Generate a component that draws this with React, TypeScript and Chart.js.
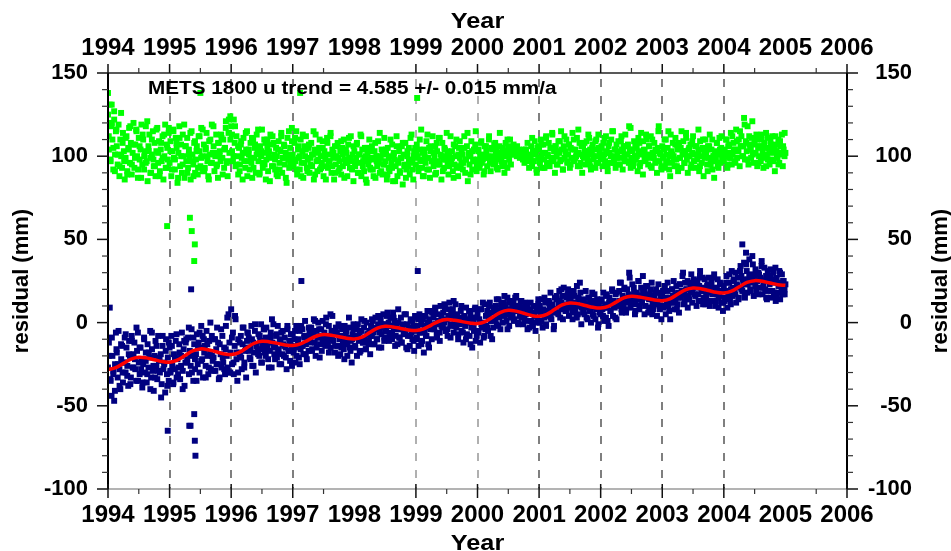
import React, { useEffect, useRef } from 'react';
import { Chart, registerables } from 'chart.js';

Chart.register(...registerables);

const FONT = "'Liberation Sans', Arial, Helvetica, sans-serif";

// ---- data ----
const years = [1994, 1995, 1996, 1997, 1998, 1999, 2000, 2001, 2002, 2003, 2004];
const endYear = 2005;

// blue: "u" residuals (mm), ~70 samples per year
const blueSeries: number[][] = [
  [-27,-12,9,-35,-44,-20,-31,-47,-25,-6,-18,-33,-5,-28,-40,-22,-14,-36,-24,-9,-30,-15,-26,-38,-11,-20,-33,-8,-27,-19,-12,-28,-35,-17,-6,-24,-31,-15,-22,-39,-25,-9,-30,-18,-36,-13,-27,-21,-5,-33,-16,-29,-41,-20,-11,-26,-34,-8,-23,-30,-19,-37,-14,-28,-24,-42,-10,-31,-21,-35],
  [-15,-30,-8,-26,-37,-19,-28,-11,-33,-22,-27,-13,-34,-20,-6,-29,-16,-38,-24,-10,-22,-9,-31,-17,-26,-4,-20,-35,-13,-28,-19,-7,-25,-12,-30,-15,-2,-22,-33,-10,-14,-26,-5,-20,-31,-11,-18,-28,-8,-23,-21,-10,-29,-16,-3,-25,-34,-13,-19,-27,-8,-24,-15,-31,-2,-20,-27,5,-12,-30],
  [8,-25,-6,-31,-14,2,-22,-35,-10,-18,-20,-8,-28,-13,-3,-24,-17,-33,-11,-6,-9,-21,-15,-2,-26,-12,-18,-5,-30,-14,-16,-7,-20,-11,-1,-24,-13,-4,-18,-9,-3,-15,-22,-10,-17,-6,-27,-12,-1,-19,-14,-8,-21,-2,-16,-25,-11,-6,-19,-13,-20,-9,-15,-28,-4,-17,-11,-23,-7,-14],
  [-7,-18,-10,-24,-2,-15,-12,-21,-5,-16,-14,-4,-19,-9,1,-13,-22,-8,-17,-6,-11,-3,-16,-7,2,-12,-20,-5,-9,0,-4,-13,-8,-17,1,-10,-6,-14,3,-9,-12,-2,-9,-15,-5,4,-11,-7,-18,-3,-6,-14,-1,-10,-19,-8,-4,-12,-16,-2,-13,-5,-20,-9,-3,-15,-11,-24,-7,-1],
  [-4,-15,-8,-20,-1,-11,-6,-17,2,-10,-12,-3,-9,-16,0,-7,-13,-5,-19,-2,-8,1,-6,-13,3,-3,-10,-1,-15,-5,2,-7,-3,5,-11,-1,-5,4,-9,0,-6,3,-2,-10,6,-4,1,-8,-1,-13,0,-9,-4,3,-12,-2,-7,5,-5,-15,-1,-8,-3,-14,2,-6,-10,-2,-17,4],
  [3,-9,-2,-14,5,-6,-1,-11,2,-18,-5,4,-8,0,-13,2,-3,7,-10,-1,3,-4,8,-1,-9,5,0,-6,10,-2,-3,6,0,9,-5,2,-8,4,12,-1,5,-2,8,-6,1,11,-3,4,-10,3,-1,7,-5,2,-12,4,-2,9,-7,0,2,-8,5,-3,-15,1,-5,8,-11,3],
  [5,-6,2,-12,8,-3,0,-9,11,-4,-2,7,-5,4,12,-8,1,6,-3,9,2,10,-1,7,14,3,-4,9,5,12,11,4,9,1,15,6,-2,8,13,3,5,12,2,9,16,7,0,10,4,13,3,9,-1,7,12,5,1,10,6,-3,8,1,6,-2,10,4,-5,7,2,11],
  [9,0,6,14,-3,8,3,12,-1,7,4,13,9,18,2,11,6,-2,15,8,14,6,11,19,3,12,8,16,21,9,7,15,10,20,4,13,17,9,2,12,16,8,12,22,5,14,10,18,-1,11,6,14,9,19,3,11,15,7,12,0,13,5,10,17,2,8,14,-3,11,6],
  [5,14,8,18,1,11,3,16,9,-2,15,7,12,20,4,13,9,17,2,11,10,19,13,24,6,16,11,21,14,8,20,12,17,27,9,15,23,13,18,5,11,18,14,25,8,16,21,12,28,17,19,10,15,22,6,14,17,9,24,12,8,16,11,20,4,13,18,10,15,2],
  [17,9,14,22,5,12,19,10,15,2,12,20,16,25,8,14,22,11,18,6,23,15,19,28,11,17,24,14,20,9,16,24,19,29,12,21,26,17,23,10,25,17,22,31,13,19,27,15,21,11,14,22,18,27,10,20,24,13,19,29,21,13,17,26,9,16,23,12,19,7],
  [22,13,19,28,9,17,24,14,20,31,16,25,19,30,12,22,27,15,21,34,28,19,25,36,15,23,31,18,26,38,20,29,24,35,16,27,32,19,25,30,29,21,26,37,17,24,33,20,28,14,19,28,23,32,15,25,30,18,26,13,27,18,24,31,14,22,29,17,25,20],
];
// blue: interleaved extra samples, ~40 per year
const blueSeriesB: number[][] = [
  [-20,-34,-9,-29,-41,-16,-25,-38,-13,-30,-24,-7,-32,-19,-37,-11,-27,-22,-3,-35,-15,-28,-36,-10,-23,-31,-18,-40,-6,-26,-33,-14,-29,-21,-45,-8,-25,-17,-38,-12],
  [-29,-14,-36,-21,-7,-31,-18,-26,-40,-11,-12,-24,-3,-19,-30,-9,-22,-35,-15,-6,-23,-8,-18,-33,-13,-27,0,-20,-29,-10,-25,-12,-33,-4,-21,-28,-16,3,-30,-18],
  [-9,-24,4,-18,-30,-12,-21,-3,-27,-15,-6,-17,-22,-10,-26,-1,-14,-19,-8,-24,-16,-4,-20,-12,-27,-9,2,-15,-22,-7,-18,-10,-25,-5,-14,-21,-2,-17,-11,-26],
  [-16,-5,-20,-10,-25,-2,-14,-8,-19,-11,-3,-12,-17,-6,1,-15,-9,-21,-4,-11,-13,-1,-8,-18,5,-10,-5,-14,-7,-20,-2,-15,-9,-22,-6,-12,3,-17,-10,-4],
  [-14,-3,-9,-18,-5,-12,1,-16,-7,-11,-8,2,-13,-4,-10,4,-6,-15,-1,-9,-5,6,-11,-2,-7,3,-14,-4,8,-9,-12,-1,-6,5,-16,-3,-8,1,-11,-5],
  [-10,2,-6,-13,4,-2,-8,7,-15,-4,6,-3,9,-7,1,-11,4,-1,11,-5,-4,8,-9,3,13,-2,5,-7,0,10,-6,4,-10,1,7,-13,3,-2,9,-8],
  [-5,8,-1,12,-8,4,-3,10,1,-10,9,2,14,-2,7,11,0,16,5,-4,12,4,9,1,15,7,-1,10,13,6,2,9,-4,7,12,-2,5,10,0,14],
  [10,1,7,15,-2,6,12,3,9,-4,8,16,5,13,20,2,11,7,17,12,14,6,19,10,3,15,24,9,12,5,11,2,15,7,18,4,9,13,-1,8],
  [13,4,9,17,1,12,7,19,10,3,18,11,24,8,15,20,6,13,30,16,12,21,7,17,25,10,14,19,5,22,16,9,20,5,13,18,11,23,8,15],
  [19,10,15,24,7,13,20,12,17,8,15,23,17,30,12,20,25,14,22,18,24,16,21,13,28,19,11,26,17,23,13,22,17,27,10,20,15,24,19,12],
  [15,24,19,29,11,21,26,17,23,14,31,20,26,17,35,23,28,19,40,25,22,30,17,27,34,21,25,15,31,26,28,19,24,33,16,22,30,20,25,17],
];
const blueEndValue = 23;
const blueOutlierYears = [1994.97, 1995.32, 1995.34, 1995.35, 1995.40, 1995.41, 1995.42, 1997.14, 1999.03, 2004.30, 2004.36];
const blueOutlierValues = [-65, -62, -62, 20, -55, -71, -80, 25, 31, 47, 42];

// green: second series shifted by +100 mm, ~70 samples per year
const greenSeries: number[][] = [
  [125,104,131,97,118,110,92,122,101,115,106,95,119,88,110,100,93,114,103,86,99,112,91,105,117,96,108,89,102,120,93,107,116,100,87,111,98,104,119,95,110,92,103,118,97,85,106,113,99,90,101,115,94,108,88,103,117,96,109,91,104,97,112,86,100,119,93,107,98,114],
  [96,109,88,103,116,99,92,111,105,84,102,118,94,107,90,113,100,87,106,97,111,93,104,99,86,115,101,95,108,90,98,106,89,112,103,94,117,100,91,107,93,104,114,97,88,109,101,96,119,102,106,91,100,113,95,87,108,103,97,111,99,110,93,105,121,96,88,114,102,124],
  [118,103,97,122,108,94,112,100,89,105,95,107,99,86,111,102,93,104,115,97,101,92,108,96,87,110,99,105,90,113,104,97,89,106,100,116,93,102,95,108,98,110,91,103,85,107,99,112,94,101,92,105,100,88,109,96,103,114,90,99,107,95,102,84,111,98,93,105,100,117],
  [101,94,108,97,115,89,104,99,92,110,96,103,87,106,100,112,93,98,105,90,99,108,94,101,86,104,113,97,91,102,105,92,100,96,109,88,103,98,94,111,93,101,97,114,90,104,99,86,106,95,100,108,91,97,103,89,105,94,110,98,96,102,88,107,99,93,112,97,101,85],
  [103,94,99,108,90,101,96,113,88,104,97,91,105,100,84,102,95,110,93,99,106,92,98,103,87,100,94,109,96,90,99,104,89,95,111,97,101,86,105,93,91,100,96,107,85,102,98,94,112,88,97,103,90,99,106,83,101,95,108,92,100,94,105,89,98,113,96,86,103,99],
  [95,107,100,91,104,98,116,93,102,88,101,96,109,92,99,105,87,103,97,112,94,100,106,90,103,97,111,95,101,86,108,98,93,104,100,114,96,89,102,99,97,103,91,107,95,100,110,94,88,105,99,93,104,101,96,112,90,98,106,85,102,95,100,109,92,98,104,97,115,91],
  [98,104,93,100,108,96,101,89,106,99,103,94,99,110,97,91,105,100,95,107,96,101,104,92,99,106,98,102,94,100,103,96,108,100,93,105,98,110,95,101,104,107,102,105,103,106,101,104,102,100,103,99,101,104,100,102,98,101,99,97,100,106,94,103,97,109,101,92,105,99],
  [104,96,110,100,93,107,98,102,112,95,101,108,94,105,99,113,97,103,90,106,100,95,109,102,97,115,104,92,106,99,103,110,96,101,107,93,105,99,114,98,97,104,100,111,94,102,108,96,101,90,106,99,103,95,109,100,113,97,104,92,101,107,98,104,93,110,100,96,105,102],
  [99,105,94,108,101,97,112,103,91,106,102,96,110,100,115,98,104,93,107,101,95,103,99,109,104,92,106,100,113,97,101,107,96,104,117,99,103,94,109,100,98,105,91,102,108,96,114,101,89,104,103,97,110,100,95,106,99,112,93,102,100,108,96,103,90,105,118,97,101,94],
  [106,99,104,93,110,101,97,115,100,88,103,96,108,100,94,111,98,104,91,107,99,105,93,101,109,96,103,114,98,90,104,100,107,95,102,112,97,101,93,106,98,103,91,109,100,96,105,88,102,110,101,95,106,99,113,97,104,92,100,87,103,98,108,94,101,111,96,105,99,102],
  [97,104,100,110,93,106,99,102,114,95,101,108,96,104,116,99,103,110,94,106,112,100,106,123,98,109,103,118,95,107,104,99,111,101,96,108,102,113,94,105,100,106,97,110,103,93,108,99,114,101,98,105,95,109,102,112,97,104,91,107,103,99,110,96,106,101,113,94,104,100],
];
// green: interleaved extra samples, ~40 per year
const greenSeriesB: number[][] = [
  [112,98,120,105,91,116,101,94,126,108,97,111,89,104,118,95,107,99,115,92,106,87,113,100,96,121,103,90,110,98,94,116,102,88,108,99,113,93,105,117],
  [103,92,115,98,108,87,111,100,95,119,106,90,101,114,97,88,109,103,93,112,99,116,91,105,100,86,110,96,118,102,94,108,100,113,89,104,117,97,122,110],
  [113,100,118,95,106,91,109,102,97,114,88,104,99,111,93,107,101,116,90,103,96,110,86,105,100,113,94,108,98,89,104,92,112,99,106,87,101,115,95,109],
  [98,111,92,106,100,88,113,96,104,91,107,95,101,115,89,103,98,110,93,105,100,86,108,97,112,94,102,90,106,99,93,109,101,87,104,96,111,99,92,106],
  [96,107,90,101,112,94,99,86,105,98,92,103,88,108,97,100,114,91,102,95,104,89,99,110,93,101,85,106,96,91,99,108,94,87,103,97,111,92,100,105],
  [101,93,110,97,88,104,99,113,92,106,97,102,89,108,95,111,100,91,105,98,103,94,112,99,87,106,93,101,109,96,92,105,98,114,100,89,103,97,107,94],
  [103,95,109,98,91,106,100,112,96,104,99,108,93,101,114,97,105,90,102,110,102,106,103,101,104,100,103,99,102,98,96,104,108,93,100,111,97,103,90,106],
  [98,107,102,93,111,100,96,105,114,99,106,95,103,109,98,92,112,101,97,107,95,104,110,99,102,116,94,106,100,108,103,97,111,94,105,100,109,96,113,101],
  [106,98,111,102,94,108,100,115,96,104,99,109,95,112,103,97,106,101,118,93,104,96,107,100,111,94,103,109,98,113,101,106,94,110,99,104,97,115,102,92],
  [100,110,96,105,92,113,101,98,107,94,108,99,115,103,96,111,100,105,93,109,97,106,101,116,94,104,110,99,103,91,106,95,110,100,97,108,93,104,112,99],
  [101,110,95,107,99,112,104,97,109,103,115,106,100,119,108,98,112,104,121,107,102,110,96,106,113,100,105,94,111,103,107,98,104,112,100,95,109,102,106,114],
];
const greenEndValue = 102;
const greenOutlierYears = [1994.0, 1994.06, 1994.1, 1994.96, 1995.33, 1995.36, 1995.41, 1995.4, 1995.5, 1997.12, 1999.02];
const greenOutlierValues = [138, 131, 127, 58, 63, 55, 47, 37, 138, 138, 135];

// red: fitted trend + annual term (mm), every 1/8 year
const redStart = 1994;
const redStep = 0.125;
const redTrend = [
  -28.2,-27.1,-24.5,-21.9,-20.8,-21.2,-22.3,-23.4,
  -23.8,-22.6,-19.8,-17.0,-15.8,-16.3,-17.5,-18.7,
  -19.2,-18.0,-15.2,-12.4,-11.2,-11.6,-12.5,-13.4,
  -13.8,-12.8,-10.5,-8.2,-7.2,-7.6,-8.5,-9.4,
  -9.8,-8.7,-6.0,-3.3,-2.2,-2.6,-3.5,-4.4,
  -4.8,-3.8,-1.5,0.8,1.8,1.4,0.6,-0.2,
  -0.6,0.6,3.4,6.2,7.4,6.9,5.6,4.3,
  3.8,5.0,7.8,10.6,11.8,11.4,10.3,9.2,
  8.8,9.8,12.3,14.8,15.8,15.4,14.5,13.6,
  13.2,14.3,17.0,19.7,20.8,20.4,19.3,18.2,
  17.8,18.9,21.5,24.1,25.2,24.8,23.8,22.8,
  22.4,
];

// axes
const xMin = 1994;
const xMax = 2006;
const yMin = -100;
const yMax = 150;
const xMajorTicks = [1994, 1995, 1996, 1997, 1999, 2000, 2001, 2002, 2003, 2004, 2006];
const xMinorTicks = [1994.5, 1995.5, 1996.5, 1997.5, 1999.5, 2000.5, 2001.5, 2002.5, 2003.5, 2004.5, 2005.5];
const xGridYears = [1995, 1996, 1997, 1999, 2000, 2001, 2002, 2003, 2004];
const xLightGridYears = [1999, 2000];
const yMajorTicks = [-100, -50, 0, 50, 100, 150];
const yMinorTicks = [-90, -80, -70, -60, -40, -30, -20, -10, 10, 20, 30, 40, 60, 70, 80, 90, 110, 120, 130, 140];

const xTitle = 'Year';
const yTitle = 'residual (mm)';
const annotation = 'METS 1800 u trend = 4.585 +/- 0.015 mm/a';

// ---- helpers ----
function rowsToPoints(rows: number[][], shift: number) {
  const pts: { x: number; y: number }[] = [];
  rows.forEach((row, i) => {
    row.forEach((v, j) => pts.push({ x: years[i] + (j + shift) / row.length, y: v }));
  });
  return pts;
}
function pairs(xs: number[], ys: number[]) {
  return xs.map((x, i) => ({ x, y: ys[i] }));
}

function stretchedText(ctx: CanvasRenderingContext2D, text: string, x: number, y: number, font: string, sx: number, align: CanvasTextAlign) {
  ctx.save();
  ctx.font = font;
  ctx.fillStyle = '#000';
  ctx.textBaseline = 'alphabetic';
  ctx.textAlign = align;
  ctx.translate(x, y);
  ctx.scale(sx, 1);
  ctx.fillText(text, 0, 0);
  ctx.restore();
}

const decorPlugin = {
  id: 'decor',
  beforeDatasetsDraw(chart: any) {
    const { ctx, chartArea: a, scales } = chart;
    const xs = scales.x;
    ctx.save();
    xGridYears.forEach((yr) => {
      const light = xLightGridYears.includes(yr);
      const px = Math.round(xs.getPixelForValue(yr));
      ctx.strokeStyle = light ? '#b0b0b0' : '#555555';
      ctx.lineWidth = light ? 2 : 1.5;
      ctx.setLineDash([8, 9]);
      ctx.beginPath();
      ctx.moveTo(px, a.top + 6);
      ctx.lineTo(px, a.bottom);
      ctx.stroke();
    });
    ctx.restore();
  },
  afterDraw(chart: any) {
    const { ctx, chartArea: a, scales } = chart;
    const xs = scales.x;
    const ys = scales.y;
    ctx.save();
    ctx.setLineDash([]);
    const line = (x1: number, y1: number, x2: number, y2: number, color: string, w: number) => {
      ctx.strokeStyle = color;
      ctx.lineWidth = w;
      ctx.beginPath();
      ctx.moveTo(x1, y1);
      ctx.lineTo(x2, y2);
      ctx.stroke();
    };
    // frame
    line(a.left, a.top, a.right, a.top, '#222', 1.5);
    line(a.left, a.bottom, a.right, a.bottom, '#9a9a9a', 1.5);
    line(a.left, a.top, a.left, a.bottom, '#000', 2);
    line(a.right, a.top, a.right, a.bottom, '#000', 2);
    // x ticks
    xMajorTicks.forEach((v) => {
      const px = xs.getPixelForValue(v);
      line(px, a.top - 9, px, a.top, '#111', 1.5);
      line(px, a.bottom - 5, px, a.bottom + 9, '#111', 1.5);
    });
    xMinorTicks.forEach((v) => {
      const px = xs.getPixelForValue(v);
      line(px, a.top - 5, px, a.top, '#333', 1.2);
      line(px, a.bottom, px, a.bottom + 5, '#333', 1.2);
    });
    // y ticks
    yMajorTicks.forEach((v) => {
      const py = ys.getPixelForValue(v);
      line(a.left - 11, py, a.left, py, '#111', 1.5);
      line(a.right, py, a.right + 11, py, '#111', 1.5);
    });
    yMinorTicks.forEach((v) => {
      const py = ys.getPixelForValue(v);
      line(a.left - 6, py, a.left, py, '#333', 1.2);
      line(a.right, py, a.right + 6, py, '#333', 1.2);
    });
    ctx.restore();

    // titles and annotation
    const cx = (a.left + a.right) / 2;
    stretchedText(ctx, xTitle, cx, 28, `bold 22px ${FONT}`, 1.15, 'center');
    stretchedText(ctx, xTitle, cx, 550, `bold 22px ${FONT}`, 1.15, 'center');
    stretchedText(ctx, annotation, 148, 94, `bold 18px ${FONT}`, 1.15, 'left');
    const cy = (a.top + a.bottom) / 2;
    [22, 941].forEach((x) => {
      ctx.save();
      ctx.font = `bold 22px ${FONT}`;
      ctx.fillStyle = '#000';
      ctx.textAlign = 'center';
      ctx.textBaseline = 'middle';
      ctx.translate(x, cy);
      ctx.rotate(-Math.PI / 2);
      ctx.fillText(yTitle, 0, 0);
      ctx.restore();
    });
  },
};

export default function App() {
  const canvasRef = useRef<HTMLCanvasElement | null>(null);

  useEffect(() => {
    const canvas = canvasRef.current;
    if (!canvas) return;

    const bluePts = rowsToPoints(blueSeries, 0)
      .concat(rowsToPoints(blueSeriesB, 0.5))
      .concat([{ x: endYear, y: blueEndValue }])
      .concat(pairs(blueOutlierYears, blueOutlierValues));
    const greenPts = rowsToPoints(greenSeries, 0)
      .concat(rowsToPoints(greenSeriesB, 0.5))
      .concat([{ x: endYear, y: greenEndValue }])
      .concat(pairs(greenOutlierYears, greenOutlierValues));
    const redPts = redTrend.map((v, i) => ({ x: redStart + i * redStep, y: v }));

    const tickFontX = { family: FONT, size: 24, weight: 'bold' as const };
    const tickFontY = { family: FONT, size: 22, weight: 'bold' as const };
    const noGrid = { display: false, drawTicks: false };

    const chart = new Chart(canvas, {
      type: 'scatter',
      data: {
        datasets: [
          {
            label: 'trend',
            data: redPts,
            showLine: true,
            borderColor: '#ff0000',
            backgroundColor: '#ff0000',
            borderWidth: 3.5,
            pointRadius: 0,
            tension: 0.4,
            fill: false,
          },
          {
            label: 'u residual',
            data: bluePts,
            backgroundColor: '#000080',
            borderWidth: 0,
            pointStyle: 'rect',
            pointRadius: 4.2,
          },
          {
            label: 'u residual + 100',
            data: greenPts,
            backgroundColor: '#00ff00',
            borderWidth: 0,
            pointStyle: 'rect',
            pointRadius: 4.2,
          },
        ],
      },
      options: {
        animation: false,
        responsive: false,
        devicePixelRatio: 1,
        events: [],
        layout: { padding: { left: 0, right: 39, top: 0, bottom: 0 } },
        plugins: { legend: { display: false }, tooltip: { enabled: false } },
        scales: {
          x: {
            type: 'linear',
            position: 'bottom',
            min: xMin,
            max: xMax,
            grid: noGrid,
            border: { display: false },
            ticks: {
              stepSize: 1,
              autoSkip: false,
              maxRotation: 0,
              padding: 12,
              color: '#000',
              font: tickFontX,
              callback: (v: any) => String(v),
            },
            afterFit: (s: any) => { s.height = 62; },
          },
          xTop: {
            type: 'linear',
            position: 'top',
            min: xMin,
            max: xMax,
            grid: noGrid,
            border: { display: false },
            ticks: {
              stepSize: 1,
              autoSkip: false,
              maxRotation: 0,
              padding: 10,
              color: '#000',
              font: tickFontX,
              callback: (v: any) => String(v),
            },
            afterFit: (s: any) => { s.height = 73; },
          },
          y: {
            type: 'linear',
            position: 'left',
            min: yMin,
            max: yMax,
            grid: noGrid,
            border: { display: false },
            ticks: { stepSize: 50, padding: 20, color: '#000', font: tickFontY },
            afterFit: (s: any) => { s.width = 108; },
          },
          yRight: {
            type: 'linear',
            position: 'right',
            min: yMin,
            max: yMax,
            grid: noGrid,
            border: { display: false },
            ticks: { stepSize: 50, crossAlign: 'far', color: '#000', font: tickFontY },
            afterFit: (s: any) => { s.width = 65; },
          },
        },
      },
      plugins: [decorPlugin],
    } as any);

    return () => chart.destroy();
  }, []);

  return (
    <div style={{ position: 'fixed', left: 0, top: 0, width: 951, height: 551, background: '#fff' }}>
      <canvas ref={canvasRef} width={951} height={551} style={{ display: 'block' }} />
    </div>
  );
}
